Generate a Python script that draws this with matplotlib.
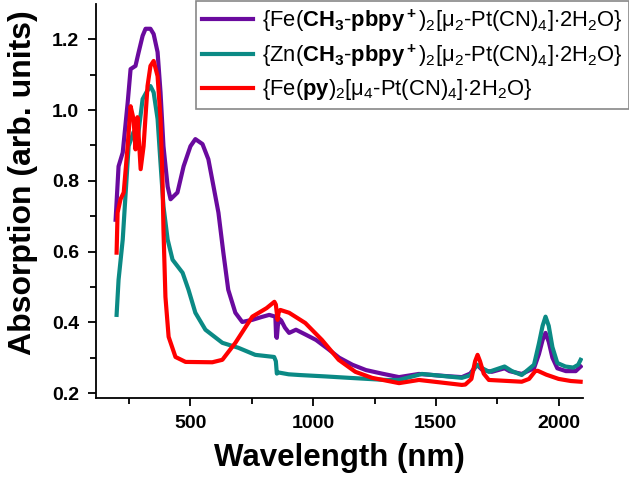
import matplotlib
matplotlib.use("Agg")
import matplotlib.pyplot as plt

plt.rcParams["font.family"] = "Liberation Sans"
plt.rcParams["mathtext.fontset"] = "custom"
plt.rcParams["mathtext.rm"] = "Liberation Sans"
plt.rcParams["mathtext.it"] = "Liberation Sans:italic"
plt.rcParams["mathtext.bf"] = "Liberation Sans:bold"

# {Fe(CH3-pbpy+)2[u2-Pt(CN)4].2H2O}
fe_wl = [195, 207, 224, 244, 256, 276, 289, 305, 317, 337, 350, 366, 378, 390, 407, 419,
         447, 472, 500, 520, 549, 573, 594, 614, 634, 654, 683, 711, 752, 790, 821, 846,
         849, 852, 856, 862, 870, 885, 902, 930, 970, 1012, 1060, 1106, 1160, 1215, 1280,
         1350, 1431, 1541, 1606, 1640, 1667, 1690, 1728, 1780, 1800, 1850, 1900, 1920,
         1935, 1947, 1960, 1975, 1995, 2030, 2070, 2090]
fe_abs = [0.69, 0.841, 0.88, 1.02, 1.116, 1.125, 1.164, 1.21, 1.23, 1.23, 1.215, 1.164,
          1.05, 0.898, 0.784, 0.748, 0.767, 0.841, 0.898, 0.918, 0.904, 0.861, 0.784, 0.71,
          0.597, 0.492, 0.427, 0.401, 0.407, 0.415, 0.421, 0.416, 0.36, 0.356, 0.39, 0.41,
          0.405, 0.385, 0.37, 0.379, 0.365, 0.35, 0.325, 0.30, 0.28, 0.265, 0.255, 0.245,
          0.254, 0.248, 0.245, 0.255, 0.28, 0.265, 0.26, 0.27, 0.262, 0.254, 0.27, 0.31,
          0.35, 0.37, 0.345, 0.30, 0.27, 0.262, 0.262, 0.275]

# {Zn(CH3-pbpy+)2[u2-Pt(CN)4].2H2O}
zn_wl = [199, 207, 224, 236, 248, 268, 285, 305, 320, 337, 350, 366, 378, 390, 407, 427,
         468, 492, 520, 561, 630, 695, 764, 841, 848, 852, 860, 900, 943, 1050, 1146, 1297,
         1350, 1443, 1606, 1640, 1667, 1690, 1716, 1780, 1810, 1850, 1900, 1920, 1935, 1947,
         1960, 1975, 1995, 2028, 2060, 2080, 2090]
zn_abs = [0.421, 0.52, 0.634, 0.767, 0.898, 0.938, 0.92, 1.031, 1.05, 1.068, 1.05, 0.975,
          0.85, 0.728, 0.634, 0.577, 0.54, 0.492, 0.427, 0.379, 0.342, 0.328, 0.308, 0.302,
          0.29, 0.255, 0.258, 0.253, 0.251, 0.247, 0.243, 0.237, 0.237, 0.254, 0.243, 0.25,
          0.28, 0.27, 0.26, 0.275, 0.262, 0.251, 0.28, 0.34, 0.39, 0.416, 0.39, 0.33, 0.285,
          0.275, 0.272, 0.28, 0.294]

# {Fe(py)2[u4-Pt(CN)4].2H2O}
py_wl = [199, 203, 215, 228, 244, 256, 268, 276, 284, 289, 297, 309, 325, 337, 350, 366,
         378, 386, 390, 398, 411, 439, 480, 589, 630, 683, 752, 810, 842, 848, 855, 860,
         866, 902, 968, 1036, 1104, 1172, 1240, 1350, 1431, 1606, 1620, 1645, 1660, 1670,
         1680, 1695, 1716, 1850, 1880, 1905, 1915, 1950, 2000, 2050, 2090]
py_abs = [0.597, 0.71, 0.748, 0.767, 0.898, 1.011, 0.975, 0.889, 0.98, 0.926, 0.833, 0.898,
          1.068, 1.125, 1.139, 1.096, 0.975, 0.804, 0.662, 0.472, 0.359, 0.302, 0.288, 0.287,
          0.294, 0.342, 0.416, 0.44, 0.458, 0.45, 0.407, 0.43, 0.435, 0.427, 0.398, 0.35,
          0.294, 0.26, 0.243, 0.228, 0.237, 0.223, 0.224, 0.24, 0.29, 0.308, 0.29, 0.255,
          0.237, 0.232, 0.24, 0.262, 0.263, 0.252, 0.24, 0.234, 0.232]

labels = [
    r"{Fe($\mathbf{CH_3}$-$\mathbf{pbpy^+}$)$_2$[μ$_2$-Pt(CN)$_4$]$\cdot$2H$_2$O}",
    r"{Zn($\mathbf{CH_3}$-$\mathbf{pbpy^+}$)$_2$[μ$_2$-Pt(CN)$_4$]$\cdot$2H$_2$O}",
    r"{Fe($\mathbf{py}$)$_2$[μ$_4$-Pt(CN)$_4$]$\cdot$2H$_2$O}",
]
colors = ["#6a0a9e", "#0b8a85", "#ff0000"]

fig = plt.figure(figsize=(6.29, 4.84), dpi=100)
ax = fig.add_axes([0.1526, 0.1777, 0.927 - 0.1526, 0.9917 - 0.1777])

ax.plot(fe_wl, fe_abs, color=colors[0], lw=3, label=labels[0])
ax.plot(zn_wl, zn_abs, color=colors[1], lw=3, label=labels[1])
ax.plot(py_wl, py_abs, color=colors[2], lw=3, label=labels[2])

ax.set_xlim(115, 2100)
ax.set_ylim(0.186, 1.30)
ax.set_xticks([500, 1000, 1500, 2000])
ax.set_xticks([250, 750, 1250, 1750], minor=True)
ax.set_yticks([0.2, 0.4, 0.6, 0.8, 1.0, 1.2])
ax.set_yticks([0.3, 0.5, 0.7, 0.9, 1.1], minor=True)
ax.set_yticklabels(["0.2", "0.4", "0.6", "0.8", "1.0", "1.2"])

ax.spines["top"].set_visible(False)
ax.spines["right"].set_visible(False)
for s in ["left", "bottom"]:
    ax.spines[s].set_linewidth(1.3)
ax.tick_params(which="major", direction="out", length=6, width=1.3, labelsize=14, pad=6)
ax.tick_params(which="minor", direction="out", length=4, width=1.3)
for t in ax.get_xticklabels() + ax.get_yticklabels():
    t.set_fontweight("bold")

ax.set_xlabel("Wavelength (nm)", fontsize=22.5, fontweight="bold", labelpad=8)
ax.set_ylabel("Absorption (arb. units)", fontsize=23, fontweight="bold", labelpad=10)
ax.yaxis.label.set_y(0.546)

leg = ax.legend(loc="upper right", bbox_to_anchor=(1.0, 0.998),
                bbox_transform=fig.transFigure, borderaxespad=0, fontsize=15.8,
                handlelength=2.3, labelspacing=0.38, borderpad=0.3, handletextpad=0.4,
                fancybox=False, framealpha=1)
leg.get_frame().set_edgecolor("#888888")
leg.get_frame().set_linewidth(1.2)

fig.savefig("out.png", dpi=100)
